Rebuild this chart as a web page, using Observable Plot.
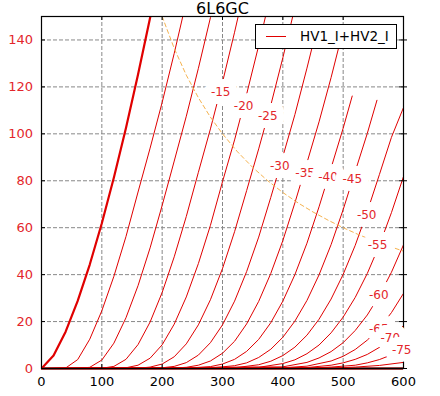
<!DOCTYPE html>
<html>
<head>
<meta charset="utf-8">
<script src="https://cdn.jsdelivr.net/npm/d3@7"></script>
<script src="https://cdn.jsdelivr.net/npm/@observablehq/plot@0.6"></script>
<style>
  html, body { margin: 0; padding: 0; background: #fff; }
  #wrap { position: relative; width: 440px; height: 396px; font-family: "DejaVu Sans", sans-serif; }
  #legend { position: absolute; left: 255px; top: 24px; width: 140px; height: 23px; border: 1px solid #000; background: #fff; box-sizing: content-box; }
  #legend .sw { position: absolute; left: 10px; top: 11px; width: 20px; height: 0; border-top: 1px solid #e00000; }
  #legend .lb { position: absolute; left: 44px; top: 3px; font-size: 13.5px; line-height: 16px; color: #000; white-space: nowrap; }
</style>
</head>
<body>
<div id="wrap"></div>
<script>
// ---- data (plate voltage V, plate current mA) ----
const title = "6L6GC";
const seriesName = "HV1_I+HV2_I";
const gridVolts = [0, -5, -10, -15, -20, -25, -30, -35, -40, -45, -50, -55, -60, -65, -70, -75, -80];

const g0   = [[0,0],[20,5.5],[40,15.7],[60,28.8],[80,44.3],[100,61.9],[120,81.4],[140,102.5],[160,125.3],[180,149.5],[190,162.1]];
const g5   = [[0,0],[20,0],[40,0.2],[60,3.8],[80,12.5],[100,24.6],[120,39.3],[140,56.2],[160,75.2],[180,93.9],[200,113.4],[220,134.3],[240,156.5]];
const g10  = [[0,0],[60,0],[80,0.5],[100,3.6],[120,10.8],[140,21.6],[160,35.3],[180,51.4],[200,69.5],[220,88.4],[240,107.5],[260,127.9],[280,149.5],[300,172.3]];
const g15  = [[0,0],[100,0.1],[120,0.9],[140,3.9],[160,10.2],[180,19.8],[200,32.4],[220,47.6],[240,64.8],[260,83.6],[280,102.1],[300,122.0],[320,143.3],[340,165.8]];
const g20  = [[0,0],[140,0.3],[160,1.4],[180,4.4],[200,10.1],[220,18.9],[240,30.5],[260,44.7],[280,61.0],[300,79.6],[320,97.4],[340,116.9],[360,137.6],[380,159.6]];
const g25  = [[0,0],[160,0.1],[180,0.6],[200,1.9],[220,5.0],[240,10.5],[260,18.6],[280,29.3],[300,42.6],[320,58.3],[340,75.8],[360,93.6],[380,112.2],[400,132.4],[420,153.9]];
const g30  = [[0,0],[200,0.3],[220,0.9],[240,2.5],[260,5.7],[280,11.0],[300,18.6],[320,28.7],[340,41.3],[360,56.0],[380,72.9],[400,90.3],[420,108.2],[440,128.0],[456,144.6]];
const g35  = [[0,0],[200,0],[240,0.5],[260,1.4],[280,3.2],[300,6.5],[320,11.6],[340,19.0],[360,28.6],[380,40.5],[400,54.5],[420,70.6],[440,87.7],[460,105.1],[480,124.0],[500,144.3]];
const g40  = [[0,0],[240,0.1],[280,0.8],[300,1.9],[320,3.9],[340,7.3],[360,12.4],[380,19.5],[400,28.7],[420,40.0],[440,53.4],[460,68.9],[480,85.5],[500,102.4],[515,116.1]];
const g45  = [[0,0],[280,0.2],[320,1.2],[340,2.4],[360,4.7],[380,8.2],[400,13.3],[420,20.2],[440,29.0],[460,39.9],[480,52.8],[500,67.7],[520,84.0],[540,100.2],[556,114.3]];
const g50  = [[0,0],[320,0.3],[360,1.6],[380,3.1],[400,5.5],[420,9.1],[440,14.2],[460,21.0],[480,29.6],[500,40.1],[520,52.5],[540,66.9],[560,82.6],[580,98.5],[600,111.2]];
const g55  = [[0,0],[360,0.5],[400,2.1],[420,3.7],[440,6.3],[460,10.0],[480,15.2],[500,21.9],[520,30.3],[540,40.5],[560,52.5],[580,66.4],[600,81.8]];
const g60  = [[0,0],[400,0.7],[440,2.6],[460,4.5],[480,7.2],[500,11.0],[520,16.2],[540,22.8],[560,31.1],[580,41.0],[600,52.7]];
const g65  = [[0,0],[400,0.3],[440,1.0],[480,3.2],[500,5.2],[520,8.1],[540,12.1],[560,17.2],[580,23.8],[600,32.0]];
const g70  = [[0,0],[440,0.4],[480,1.4],[500,2.4],[520,3.9],[540,6.0],[560,9.0],[580,13.1],[600,18.3]];
const g75  = [[0,0],[440,0.15],[480,0.6],[520,1.4],[540,2.4],[560,3.8],[580,5.8],[600,8.3]];
const g80  = [[0,0],[480,0.2],[520,0.6],[560,1.3],[600,2.6]];

const curveList = [g0, g5, g10, g15, g20, g25, g30, g35, g40, g45, g50, g55, g60, g65, g70, g75, g80];

// contour-style labels (text, plate V, plate mA)
const labelText = ["-15","-20","-25","-30","-35","-40","-45","-50","-55","-60","-65","-70","-75"];
const labelV    = [297, 335, 375, 395, 437, 475, 515, 539, 557, 559, 559, 578, 597];
const labelI    = [117.6, 111.6, 107.4, 86.1, 83.4, 81.4, 80.5, 65.2, 52.4, 31.1, 16.9, 12.8, 7.7];

// 30 W plate dissipation limit
const dissV = [200, 220, 240, 260, 280, 300, 325, 350, 375, 400, 425, 450, 475, 500, 525, 550, 575, 600];
const dissI = [150, 136.4, 125, 115.4, 107.1, 100, 92.3, 85.7, 80, 75, 70.6, 66.7, 63.2, 60, 57.1, 54.5, 52.2, 50];

const xTicks = [0, 100, 200, 300, 400, 500, 600];
const yTicks = [0, 20, 40, 60, 80, 100, 120, 140];
const xGrid = [100, 200, 300, 400, 500];
const yGrid = [20, 40, 60, 80, 100, 120, 140];

// ---- build tables ----
const rows = curveList.flatMap((pts, k) => pts.map(([v, i]) => ({vg: gridVolts[k], v, i})));
const labels = labelText.map((t, k) => ({t, v: labelV[k], i: labelI[k]}));
const diss = dissV.map((v, k) => ({v, i: dissI[k]}));

const RED = "#e00000";
const LABELRED = "#e3262b";

const chart = Plot.plot({
  width: 440,
  height: 396,
  marginLeft: 41,
  marginRight: 37,
  marginTop: 16,
  marginBottom: 28,
  style: {fontFamily: "DejaVu Sans, sans-serif", fontSize: "13px", background: "white"},
  x: {domain: [0, 600], label: null},
  y: {domain: [0, 150], label: null},
  marks: [
    Plot.gridX(xGrid, {stroke: "#888", strokeOpacity: 1, strokeDasharray: "4,2", strokeWidth: 1}),
    Plot.gridY(yGrid, {stroke: "#888", strokeOpacity: 1, strokeDasharray: "4,2", strokeWidth: 1}),
    Plot.ruleY([0], {stroke: "#8a1010", strokeWidth: 2.5}),
    Plot.line(rows.filter(d => d.vg !== 0), {x: "v", y: "i", z: "vg", stroke: RED, strokeWidth: 1, clip: true}),
    Plot.line(rows.filter(d => d.vg === 0), {x: "v", y: "i", stroke: RED, strokeWidth: 2.2, clip: true}),
    Plot.line(diss, {x: "v", y: "i", stroke: "#f5b350", strokeWidth: 1, strokeDasharray: "4,3", clip: true}),
    Plot.frame({stroke: "black", strokeWidth: 1.2}),
    Plot.tickY(yTicks, {y: d => d, insetRight: 358, stroke: "black"}),
    Plot.tickY(yTicks, {y: d => d, insetLeft: 358, insetRight: -4, stroke: "black"}),
    Plot.tickX(xTicks, {x: d => d, insetTop: 348, stroke: "black"}),
    Plot.tickX(xTicks, {x: d => d, insetBottom: 348, stroke: "black"}),
    Plot.text(labels, {x: "v", y: "i", text: "t", fill: LABELRED, stroke: "white", strokeWidth: 16, fontSize: 12}),
    Plot.axisX(xTicks, {tickSize: 0, tickPadding: 8.5, fontSize: 13, color: "black", tickFormat: d => String(d), label: null}),
    Plot.axisY(yTicks, {tickSize: 0, tickPadding: 8.5, fontSize: 13, color: LABELRED, tickFormat: d => String(d), label: null}),
    Plot.text([title], {frameAnchor: "top", dy: -3, lineAnchor: "bottom", fontSize: 16, fill: "black"})
  ]
});

const wrap = document.getElementById("wrap");
wrap.appendChild(chart);
const legend = document.createElement("div");
legend.id = "legend";
legend.innerHTML = '<div class="sw"></div><div class="lb"></div>';
legend.querySelector(".lb").textContent = seriesName;
wrap.appendChild(legend);
</script>
</body>
</html>
